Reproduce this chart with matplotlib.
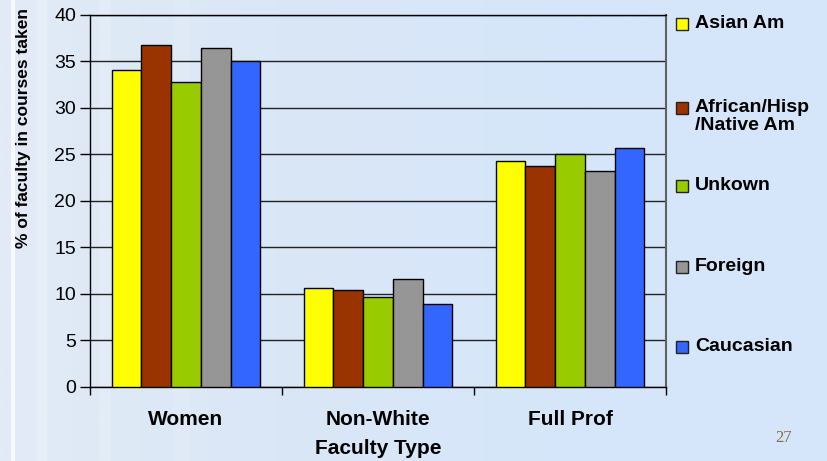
import numpy as np
import matplotlib
matplotlib.use('Agg')
import matplotlib.pyplot as plt
from matplotlib.patches import Rectangle
from matplotlib.colors import LinearSegmentedColormap

plt.rcParams['font.family'] = ['Liberation Sans', 'DejaVu Sans']

# --- data ---
groups = ['Women', 'Non-White', 'Full Prof']
series = ['Asian Am', 'African/Hisp\n/Native Am', 'Unkown', 'Foreign', 'Caucasian']
asian_am = [34.1, 10.6, 24.3]
african_hisp_native = [36.8, 10.4, 23.8]
unknown = [32.8, 9.6, 25.0]
foreign = [36.5, 11.6, 23.2]
caucasian = [35.1, 8.9, 25.7]
values = [asian_am, african_hisp_native, unknown, foreign, caucasian]
colors = ['#ffff00', '#993300', '#99cc00', '#969696', '#3366ff']

fig = plt.figure(figsize=(8.27, 4.61), dpi=100)

# slide background: pale blue, lighter toward the left edge
bg = fig.add_axes([0, 0, 1, 1], zorder=-10)
bg.set_axis_off()
cmap = LinearSegmentedColormap.from_list('slide', ['#e2ebf6', '#dae7f6', '#d6e6fa', '#d6e6fa'])
grad = np.tile(np.linspace(0, 1, 400), (10, 1))
bg.imshow(grad, cmap=cmap, aspect='auto', extent=[0, 1, 0, 1])
for x0, w, a in [(0.013, 0.005, 0.7), (0.045, 0.012, 0.2), (0.12, 0.014, 0.15), (0.21, 0.02, 0.12)]:
    bg.add_patch(Rectangle((x0, 0), w, 1, color='white', alpha=a, lw=0))
bg.set_xlim(0, 1); bg.set_ylim(0, 1)

ax = fig.add_axes([0.1088, 0.1612, 0.6965, 0.8063])
ax.patch.set_alpha(0)

x = np.arange(len(groups))
w = 0.1547
for i, (vals, c) in enumerate(zip(values, colors)):
    ax.bar(x + (i - 2) * w, vals, w, color=c, edgecolor='black', linewidth=1, zorder=3)

ax.set_xlim(-0.5, 2.5)
ax.set_ylim(0, 40)
ax.set_yticks(np.arange(0, 41, 5))
ax.yaxis.grid(True, color='#222222', linewidth=1, zorder=0)
ax.tick_params(axis='y', direction='out', length=7, width=1, labelsize=14, pad=3)

ax.set_xticks(x)
ax.set_xticklabels(groups, fontsize=15, fontweight='bold')
ax.set_xticks([-0.5, 0.5, 1.5, 2.5], minor=True)
ax.tick_params(axis='x', which='major', length=0, pad=17)
ax.tick_params(axis='x', which='minor', direction='out', length=6, width=1)

for s in ['left', 'bottom', 'top']:
    ax.spines[s].set_color('black')
    ax.spines[s].set_linewidth(1)
ax.spines['right'].set_color('#606060')
ax.spines['right'].set_linewidth(1.5)

ax.set_xlabel('Faculty Type', fontsize=15, fontweight='bold')
ax.xaxis.set_label_coords(0.5, -0.142)
ax.set_ylabel('% of faculty in courses taken', fontsize=12.5, fontweight='bold')
ax.yaxis.set_label_coords(-0.102, 0.696)

# legend placed down the right side
leg_y = [24, 108, 186, 267, 347]
for lab, c, yp in zip(series, colors, leg_y):
    fy = 1 - yp / 461
    fig.patches.append(Rectangle((676 / 827, fy - 6 / 461), 12 / 827, 12 / 461,
                                 transform=fig.transFigure, facecolor=c,
                                 edgecolor='#222222', linewidth=1))
    fig.text(695 / 827, fy + 9 / 461, lab, fontsize=14, fontweight='bold',
             va='top', ha='left', linespacing=1.1)

fig.text(784 / 827, 1 - 438 / 461, '27', fontsize=12, color='#8b6a3a',
         family='Liberation Serif', ha='center', va='center')

fig.savefig('out.png', dpi=100)
